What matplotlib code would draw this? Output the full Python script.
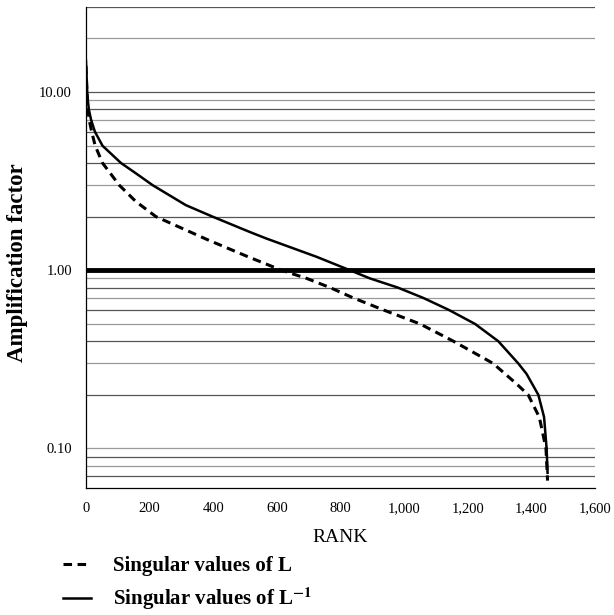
import matplotlib
matplotlib.use("Agg")
import matplotlib.pyplot as plt

plt.rcParams['font.family'] = ['Liberation Serif', 'DejaVu Serif']
plt.rcParams['mathtext.fontset'] = 'stix'

# singular values of L (dashed)
rank_L = [0, 3, 6, 10, 18, 29, 52, 105, 157, 220, 380, 505, 615, 694, 767, 840, 934, 1050,
          1155, 1280, 1354, 1390, 1425, 1446, 1451]
sv_L = [14, 10, 8, 7, 6, 5, 4, 3, 2.43, 2, 1.49, 1.2, 1.0, 0.9, 0.8, 0.7, 0.6, 0.5,
        0.4, 0.3, 0.23, 0.2, 0.15, 0.1, 0.066]

# singular values of L^-1 (solid)
rank_Linv = [0, 4, 6, 9, 16, 28, 52, 110, 157, 210, 314, 398, 515, 566, 725, 830, 893, 980, 1060,
             1140, 1223, 1296, 1359, 1385, 1422, 1440, 1448, 1451]
sv_Linv = [15, 10, 9, 8, 7, 6, 5, 4, 3.5, 3, 2.32, 2, 1.64, 1.51, 1.19, 1.0, 0.9, 0.8, 0.7,
           0.6, 0.5, 0.4, 0.3, 0.262, 0.2, 0.15, 0.1, 0.073]

grid_vals = [0.07, 0.08, 0.09, 0.1, 0.2, 0.3, 0.4, 0.5, 0.6, 0.7, 0.8, 0.9,
             2, 3, 4, 5, 6, 7, 8, 9, 10, 20, 30]
ytick_vals = [0.1, 1, 10]
ytick_labels = ['0.10', '1.00', '10.00']
xtick_vals = [0, 200, 400, 600, 800, 1000, 1200, 1400, 1600]
xtick_labels = ['0', '200', '400', '600', '800', '1,000', '1,200', '1,400', '1,600']

fig = plt.figure(figsize=(6.14, 6.15), dpi=100)
ax = fig.add_axes([0.140, 0.2065, 0.829, 0.782])

for i, g in enumerate(grid_vals):
    col = '#555555' if i % 2 == 0 else '#9a9a9a'
    ax.axhline(g, color=col, lw=0.9, zorder=1)
ax.axhline(1.0, color='black', lw=3.5, zorder=2)

l1, = ax.plot(rank_L, sv_L, color='black', lw=2.2, linestyle=(0, (2.8, 1.8)), zorder=3)
l2, = ax.plot(rank_Linv, sv_Linv, color='black', lw=1.8, zorder=3)

ax.set_yscale('log')
ax.set_ylim(0.06, 30)
ax.set_xlim(0, 1600)
ax.set_yticks(ytick_vals)
ax.set_yticklabels(ytick_labels)
ax.yaxis.set_minor_locator(matplotlib.ticker.NullLocator())
ax.set_xticks(xtick_vals)
ax.set_xticklabels(xtick_labels)
ax.tick_params(axis='both', length=0, labelsize=10.5, pad=10)

ax.spines['top'].set_visible(False)
ax.spines['right'].set_visible(False)
ax.spines['left'].set_linewidth(0.9)
ax.spines['bottom'].set_linewidth(0.9)

ax.set_xlabel('RANK', fontsize=14, labelpad=10)
fig.text(18 / 614, 1 - 263 / 615, 'Amplification factor', rotation=90,
         ha='center', va='center', fontsize=16.5, fontweight='bold')

fig.legend([l1, l2],
           ['Singular values of L', r'Singular values of L$^{\mathbf{-1}}$'],
           loc='upper left', bbox_to_anchor=(0.072, 0.126), frameon=False,
           prop={'weight': 'bold', 'size': 15}, handlelength=1.35,
           handletextpad=1.05, labelspacing=0.45)

fig.savefig('out.png', dpi=100)
